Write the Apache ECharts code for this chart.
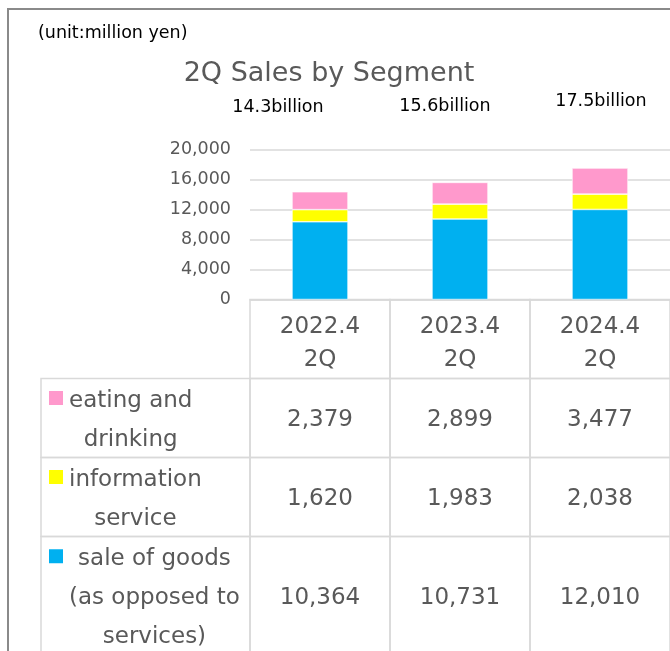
<!DOCTYPE html>
<html>
<head>
<meta charset="utf-8">
<script src="https://cdn.jsdelivr.net/npm/echarts@6/dist/echarts.min.js"></script>
<style>
  html, body { margin: 0; padding: 0; background: #fff; }
  #main { width: 670px; height: 651px; }
</style>
</head>
<body>
<div id="main"></div>
<script>
// data (million yen)
const categories = ['2022.4\n2Q', '2023.4\n2Q', '2024.4\n2Q']
const segmentNames = ['eating and\ndrinking', 'information\nservice', 'sale of goods\n(as opposed to\nservices)']
const eatingDrinking = [2379, 2899, 3477]
const informationService = [1620, 1983, 2038]
const saleOfGoods = [10364, 10731, 12010]
const totalLabels = ['14.3billion', '15.6billion', '17.5billion']
const yMin = 0
const yMax = 20000
const yInterval = 4000

// look
const FONT = 'DejaVu Sans'
const TEXT_GRAY = '#595959'
const LINE_GRAY = '#d9d9d9'
const PINK = '#FF99CC'
const YELLOW = '#FFFF00'
const BLUE = '#00B0F0'
const LABEL_COL = 209 // width of the row-name column in the data table
const UNIT = 39.5 // height of one text line in the table
const totalLabelOffsets = [[-42, -70], [-15, -62], [1, -53]]

// table rows top -> bottom (same order as the legend in the table)
const tableValues = [eatingDrinking, informationService, saleOfGoods]
const tableColors = [PINK, YELLOW, BLUE]

const rowBounds = []
let acc = 0
const headerLines = categories[0].split('\n').length
rowBounds.push([0, acc, acc + headerLines])
acc += headerLines
segmentNames.forEach(name => {
  const n = name.split('\n').length
  rowBounds.push([0, acc, acc + n])
  acc += n
})
// the last row runs past the bottom of the page; keep the grid inside it
const tableSpan = acc - 1

const measureCtx = document.createElement('canvas').getContext('2d')
function textWidth(str, size) {
  measureCtx.font = size + 'px "' + FONT + '"'
  return measureCtx.measureText(str).width
}

function renderRow(params, api) {
  const r = params.dataIndex
  const top = api.coord([0, api.value(1)])[1]
  const bottom = api.coord([0, api.value(2)])[1]
  const band = api.size([1, 0])[0]
  const mid = (top + bottom) / 2
  const cellStyle = { fill: 'none', stroke: LINE_GRAY, lineWidth: 1.5 }
  const children = []
  for (let c = 0; c < categories.length; c++) {
    const cx = api.coord([c, 0])[0]
    children.push({
      type: 'rect',
      shape: { x: cx - band / 2, y: top, width: band, height: bottom - top },
      style: cellStyle
    })
    const isHeader = r === 0
    children.push({
      type: 'text',
      x: cx,
      y: isHeader ? mid + 5 : mid + 2.5,
      style: {
        text: isHeader ? categories[c] : tableValues[r - 1][c].toLocaleString('en-US'),
        fill: TEXT_GRAY,
        fontSize: 23,
        fontFamily: FONT,
        align: 'center',
        verticalAlign: 'middle',
        lineHeight: isHeader ? 33 : 39
      }
    })
  }
  if (r > 0) {
    const name = segmentNames[r - 1]
    const lines = name.split('\n')
    const left = api.coord([0, 0])[0] - band / 2 - LABEL_COL
    children.push({
      type: 'rect',
      shape: { x: left, y: top, width: LABEL_COL, height: bottom - top },
      style: cellStyle
    })
    const firstLine = mid - (lines.length - 1) * 39 / 2
    children.push({
      type: 'rect',
      shape: { x: left + 8, y: firstLine - 7.5, width: 14, height: 14 },
      style: { fill: tableColors[r - 1] }
    })
    const blockW = Math.max(...lines.map(l => textWidth(l, 23)))
    children.push({
      type: 'text',
      x: left + 28 + blockW / 2,
      y: mid + 2.5,
      style: {
        text: name,
        fill: TEXT_GRAY,
        fontSize: 23,
        fontFamily: FONT,
        align: 'center',
        verticalAlign: 'middle',
        lineHeight: 39
      }
    })
  }
  return { type: 'group', children }
}

const chart = echarts.init(document.getElementById('main'))

chart.setOption({
  animation: false,
  backgroundColor: '#fff',
  textStyle: { fontFamily: FONT },
  graphic: [
    {
      type: 'rect',
      shape: { x: 8, y: 9, width: 700, height: 700 },
      style: { fill: 'none', stroke: '#8a8a8a', lineWidth: 2 },
      z: 100
    },
    {
      type: 'text',
      x: 38,
      y: 33,
      style: { text: '(unit:million yen)', fill: '#000', fontSize: 17.5, fontFamily: FONT, verticalAlign: 'middle' }
    },
    {
      type: 'text',
      x: 329,
      y: 74,
      style: { text: '2Q Sales by Segment', fill: TEXT_GRAY, fontSize: 27, fontFamily: FONT, align: 'center', verticalAlign: 'middle' }
    }
  ],
  grid: [
    { left: 250, top: 149.5, width: 424, height: 150 },
    { left: 250, top: 299.5, width: 424, height: tableSpan * UNIT }
  ],
  xAxis: [
    {
      type: 'category',
      gridIndex: 0,
      data: categories,
      axisLine: { lineStyle: { color: LINE_GRAY, width: 1.5 } },
      axisTick: { show: false },
      axisLabel: { show: false }
    },
    {
      type: 'category',
      gridIndex: 1,
      data: categories,
      show: false
    }
  ],
  yAxis: [
    {
      type: 'value',
      gridIndex: 0,
      min: yMin,
      max: yMax,
      interval: yInterval,
      axisLine: { show: false },
      axisTick: { show: false },
      splitLine: { lineStyle: { color: LINE_GRAY, width: 1.5 } },
      axisLabel: {
        color: TEXT_GRAY,
        fontSize: 17.5,
        fontFamily: FONT,
        margin: 19,
        padding: [4, 0, 0, 0],
        formatter: v => v.toLocaleString('en-US')
      }
    },
    {
      type: 'value',
      gridIndex: 1,
      min: 0,
      max: tableSpan,
      inverse: true,
      show: false
    }
  ],
  series: [
    {
      name: 'sale of goods',
      type: 'bar',
      stack: 'sales',
      barWidth: '40%',
      data: saleOfGoods,
      itemStyle: { color: BLUE, borderColor: '#fff', borderWidth: 0.6 }
    },
    {
      name: 'information service',
      type: 'bar',
      stack: 'sales',
      data: informationService,
      itemStyle: { color: YELLOW, borderColor: '#fff', borderWidth: 0.6 }
    },
    {
      name: 'eating and drinking',
      type: 'bar',
      stack: 'sales',
      data: eatingDrinking.map((v, i) => ({ value: v, label: { offset: totalLabelOffsets[i] } })),
      itemStyle: { color: PINK, borderColor: '#fff', borderWidth: 0.6 },
      label: {
        show: true,
        position: 'top',
        distance: 5,
        color: '#000',
        fontSize: 17.5,
        fontFamily: FONT,
        formatter: p => totalLabels[p.dataIndex]
      }
    },
    {
      name: 'table',
      type: 'custom',
      xAxisIndex: 1,
      yAxisIndex: 1,
      data: rowBounds,
      encode: { x: 0, y: [1, 2] },
      renderItem: renderRow,
      clip: false
    }
  ]
})
</script>
</body>
</html>
